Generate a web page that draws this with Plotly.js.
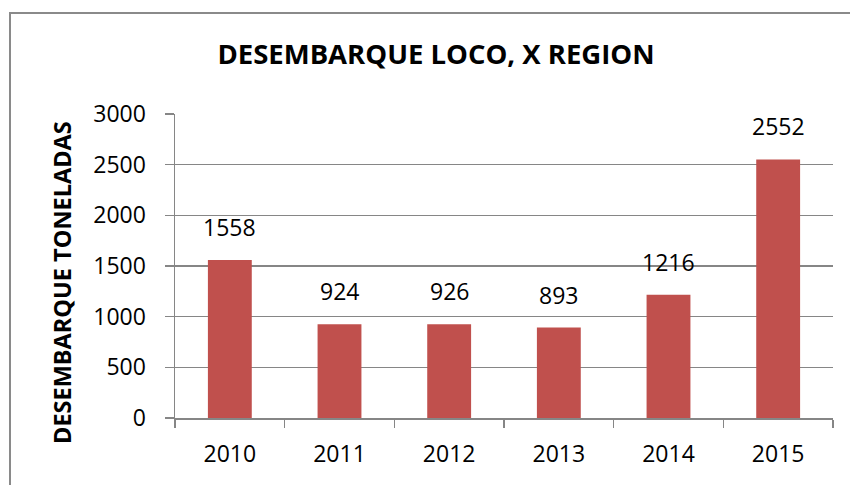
<!DOCTYPE html>
<html>
<head>
<meta charset="utf-8">
<script src="https://cdn.plot.ly/plotly-3.0.1.min.js"></script>
<style>
html,body{margin:0;padding:0;background:#fff;}
#chart{width:850px;height:485px;}
</style>
</head>
<body>
<div id="chart"></div>
<script>
const years = ["2010", "2011", "2012", "2013", "2014", "2015"];
const landings = [1558, 924, 926, 893, 1216, 2552];
const yTicks = [0, 500, 1000, 1500, 2000, 2500, 3000];
const chartTitle = "DESEMBARQUE LOCO, X REGION";
const yTitle = "DESEMBARQUE TONELADAS";

const FONT = "Open Sans, sans-serif";
const ml = 175, mr = 17, mt = 114, mb = 67, W = 850, H = 485;
const pw = W - ml - mr, ph = H - mt - mb;

const labelAnnotations = years.map((y, i) => ({
  x: i, y: landings[i], xref: 'x', yref: 'y',
  text: String(landings[i]), showarrow: false,
  yanchor: 'bottom', yshift: 15,
  font: {family: FONT, size: 23, color: '#000'}
}));

const data = [{
  type: 'bar', x: years, y: landings,
  marker: {color: '#C0504D'},
  hoverinfo: 'x+y'
}];

const layout = {
  width: W, height: H,
  margin: {l: ml, r: mr, t: mt, b: mb, pad: 0},
  paper_bgcolor: 'rgba(0,0,0,0)', plot_bgcolor: 'rgba(0,0,0,0)',
  bargap: 0.6,
  showlegend: false,
  title: {
    text: '<b>' + chartTitle + '</b>',
    font: {family: FONT, size: 27.5, color: '#000'},
    x: 436 / W, xref: 'container', xanchor: 'center',
    y: 1 - 54 / H, yref: 'container', yanchor: 'middle'
  },
  xaxis: {
    type: 'category', categoryorder: 'array', categoryarray: years,
    range: [-0.5, years.length - 0.5], autorange: false,
    showline: true, linecolor: '#868686', linewidth: 1.5,
    ticks: 'outside', tickson: 'boundaries', ticklen: 8, tickcolor: '#868686', tickwidth: 1.5,
    showgrid: false, zeroline: false,
    tickfont: {family: FONT, size: 23, color: '#000'},
    ticklabelstandoff: 15
  },
  yaxis: {
    range: [0, 3000], autorange: false, tickvals: yTicks, ticktext: yTicks.map(String),
    showline: true, linecolor: '#868686', linewidth: 1.5,
    ticks: 'outside', ticklen: 9, tickcolor: '#868686', tickwidth: 1.5,
    showgrid: true, gridcolor: '#868686', gridwidth: 1.5,
    zeroline: false,
    tickfont: {family: FONT, size: 23, color: '#000'},
    ticklabelstandoff: 14
  },
  annotations: labelAnnotations.concat([{
    text: '<b>' + yTitle + '</b>', textangle: -90, showarrow: false,
    xref: 'paper', yref: 'paper',
    x: (62 - ml) / pw, y: (H - mb - 283) / ph,
    xanchor: 'center', yanchor: 'middle',
    font: {family: FONT, size: 23.5, color: '#000'}
  }]),
  shapes: [{
    type: 'rect', xref: 'paper', yref: 'paper',
    x0: (10 - ml) / pw, x1: (900 - ml) / pw,
    y0: (H - mb - 600) / ph, y1: (H - mb - 13) / ph,
    line: {color: '#8a8a8a', width: 2}, fillcolor: 'rgba(0,0,0,0)', layer: 'below'
  }]
};

Plotly.newPlot('chart', data, layout, {displayModeBar: false, staticPlot: true});
</script>
</body>
</html>
